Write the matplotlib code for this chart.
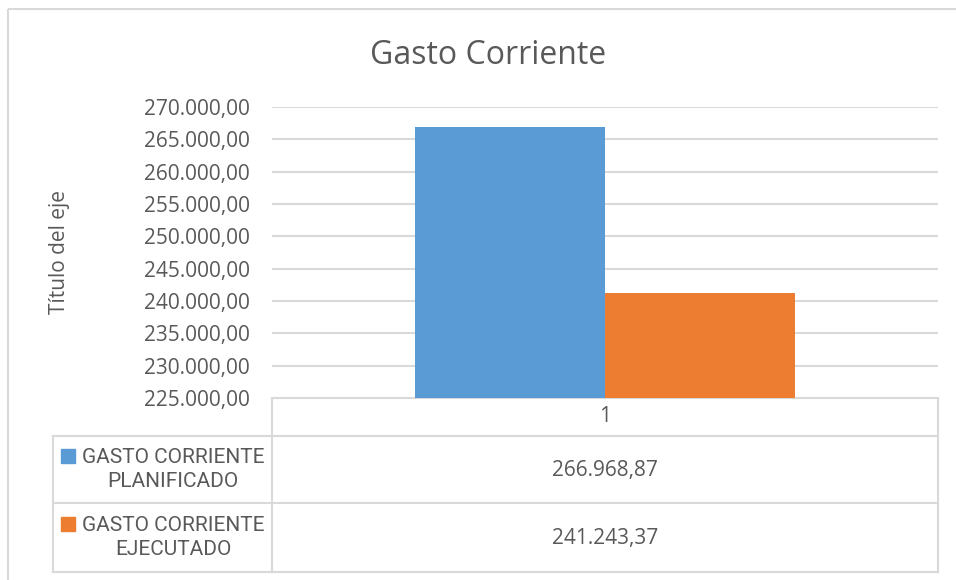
import matplotlib
matplotlib.use("Agg")
import matplotlib.pyplot as plt
from matplotlib.patches import Rectangle
from matplotlib.ticker import FuncFormatter

# datos
categorias = ["1"]
series = ["GASTO CORRIENTE\nPLANIFICADO", "GASTO CORRIENTE\nEJECUTADO"]
valores = [266968.87, 241243.37]
colores = ["#5b9bd5", "#ed7d31"]
y_min, y_max, y_paso = 225000, 270000, 5000

GRIS = "#595959"
LINEA = "#d9d9d9"
FUENTE = ["Open Sans", "DejaVu Sans"]
FUENTE_TABLA = ["Roboto", "Open Sans", "DejaVu Sans"]


def fmt_es(v, pos=None):
    s = f"{v:,.2f}"
    return s.replace(",", "X").replace(".", ",").replace("X", ".")


W, H = 956, 580
fig = plt.figure(figsize=(W / 100, H / 100), dpi=100)
plt.rcParams['font.family'] = FUENTE

# capa de fondo en pixeles para marco y tabla
bg = fig.add_axes([0, 0, 1, 1])
bg.set_xlim(0, W)
bg.set_ylim(H, 0)
bg.axis("off")
bg.add_patch(Rectangle((8, 9), W + 10, H + 10, fill=False, ec=LINEA, lw=1.5))

# area de trazado
x0, x1, ytop, ybot = 272, 938, 107, 398
ax = fig.add_axes([x0 / W, 1 - ybot / H, (x1 - x0) / W, (ybot - ytop) / H])
ax.set_xlim(-0.5, len(categorias) - 0.5)
ax.set_ylim(y_min, y_max)
ax.set_yticks(range(y_min, y_max + 1, y_paso))
ax.yaxis.set_major_formatter(FuncFormatter(fmt_es))
ax.grid(axis="y", color=LINEA, lw=1.5)
ax.set_axisbelow(True)
for sp in ax.spines.values():
    sp.set_visible(False)
ax.tick_params(axis="y", length=0, pad=16, labelsize=15, labelcolor=GRIS)
ax.set_xticks([])

ancho = 0.286
n = len(valores)
for i, (v, c) in enumerate(zip(valores, colores)):
    off = (i - (n - 1) / 2) * ancho
    ax.bar(0 + off, v - y_min, bottom=y_min, width=ancho, color=c, zorder=3)

ax.set_ylabel("Título del eje", fontsize=15, color=GRIS)
ax.yaxis.set_label_coords((70 - x0) / (x1 - x0), 0.5)

fig.text(488 / W, 1 - 55 / H, "Gasto Corriente", fontsize=23, color=GRIS,
         ha="center", va="center")

# tabla de datos
tl = 53
filas = [398, 436, 503, 572]
lkw = dict(color=LINEA, lw=1.5)
bg.plot([x0, x1], [filas[0], filas[0]], **lkw)
for yy in filas[1:]:
    bg.plot([tl, x1], [yy, yy], **lkw)
bg.plot([tl, tl], [filas[1], filas[-1]], **lkw)
bg.plot([x0, x0], [filas[0], filas[-1]], **lkw)
bg.plot([x1, x1], [filas[0], filas[-1]], **lkw)

bg.text((x0 + x1) / 2, (filas[0] + filas[1]) / 2, categorias[0], fontsize=15,
        color=GRIS, ha="center", va="center")
for i, (nom, v, c) in enumerate(zip(series, valores, colores)):
    yc = (filas[i + 1] + filas[i + 2]) / 2
    bg.add_patch(Rectangle((61, yc - 21), 14, 14, color=c))
    bg.text(173, yc, nom, fontsize=15, color=GRIS, ha="center", va="center",
            multialignment="center", linespacing=1.35, family=FUENTE_TABLA)
    bg.text((x0 + x1) / 2, yc + 1, fmt_es(v), fontsize=15, color=GRIS,
            ha="center", va="center")

fig.savefig("out.png", dpi=100)
